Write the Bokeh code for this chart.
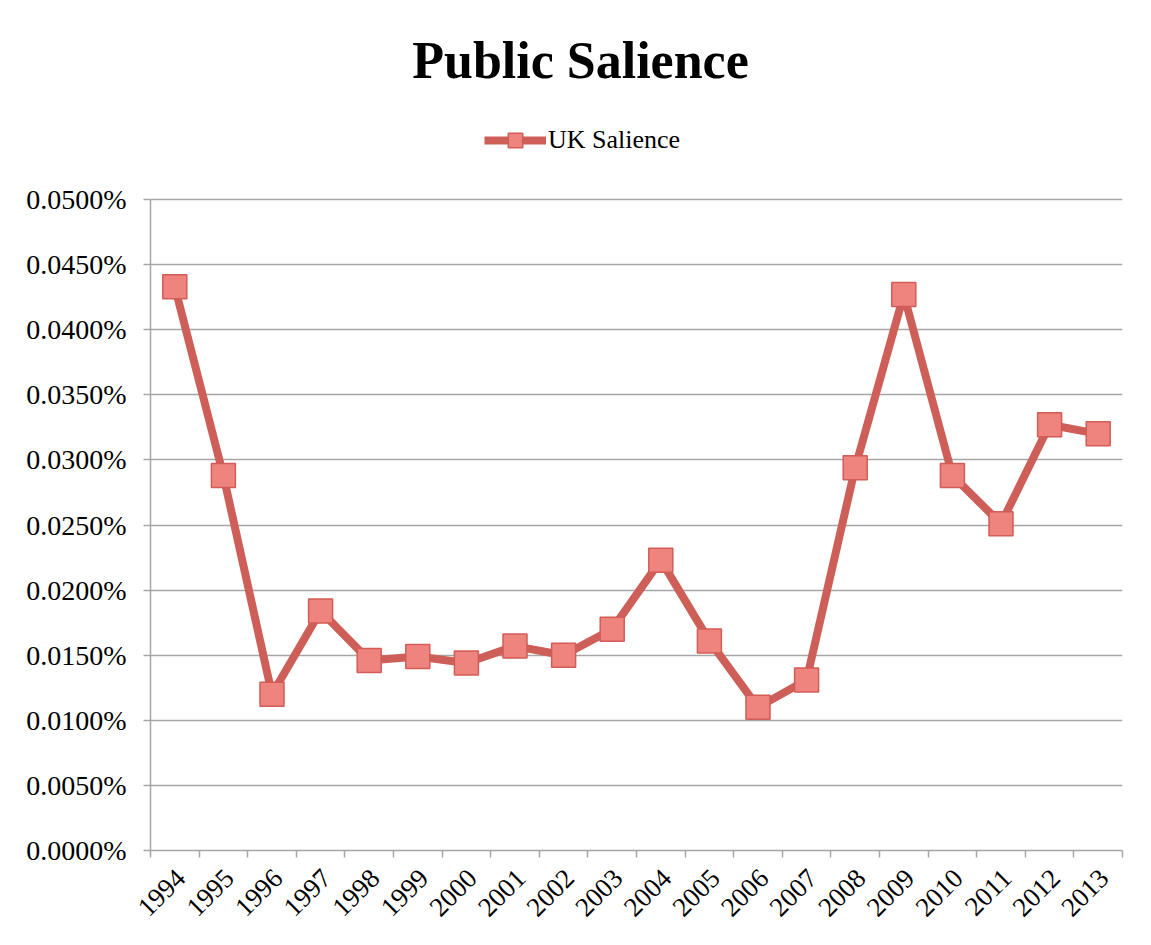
import math
from bokeh.plotting import figure
from bokeh.models import (Range1d, FixedTicker, PrintfTickFormatter, CustomJSTickFormatter,
                          Label, Legend, LegendItem, ColumnDataSource)
from bokeh.embed import file_html
from bokeh.resources import INLINE

years = ["1994", "1995", "1996", "1997", "1998", "1999", "2000", "2001", "2002", "2003",
         "2004", "2005", "2006", "2007", "2008", "2009", "2010", "2011", "2012", "2013"]
uk_salience = [0.0433, 0.0288, 0.0120, 0.0184, 0.0146, 0.0149, 0.0144, 0.0157, 0.0150, 0.0170,
               0.0223, 0.0161, 0.0110, 0.0131, 0.0294, 0.0427, 0.0288, 0.0251, 0.0327, 0.0320]
y_ticks = [0.0, 0.005, 0.010, 0.015, 0.020, 0.025, 0.030, 0.035, 0.040, 0.045, 0.050]
y_max = 0.05
title_text = "Public Salience"
series_name = "UK Salience"

FONT = "Liberation Serif"
GRID = "#A6A6A6"
LINE = "#CD5F58"

# layout (pixels)
W, H = 1135, 929
FRAME_LEFT, FRAME_RIGHT, FRAME_BOTTOM = 150, 1122, 850
PLOT_TOP = 199  # pixel row of y_max
y_top = y_max * FRAME_BOTTOM / (FRAME_BOTTOM - PLOT_TOP)  # frame extended up to canvas top

xs = [i + 0.5 for i in range(len(years))]
label_pos = [i + 0.62 for i in range(len(years))]
src = ColumnDataSource(dict(x=xs, y=uk_salience))

p = figure(width=W, height=H, output_backend="svg", toolbar_location=None,
           x_range=Range1d(0, len(years)), y_range=Range1d(0, y_top),
           min_border_left=FRAME_LEFT, min_border_right=W - FRAME_RIGHT,
           min_border_top=0, min_border_bottom=H - FRAME_BOTTOM)
p.outline_line_color = None
p.background_fill_color = "white"
p.border_fill_color = "white"

# grid
p.xgrid.grid_line_color = None
p.ygrid.grid_line_color = GRID
p.ygrid.grid_line_width = 1.5

# y axis
p.yaxis.ticker = FixedTicker(ticks=y_ticks)
p.yaxis.bounds = (0, y_max)
p.yaxis.formatter = PrintfTickFormatter(format="%.4f%%")
p.yaxis.axis_line_color = GRID
p.yaxis.axis_line_width = 1.5
p.yaxis.major_tick_line_color = GRID
p.yaxis.major_tick_line_width = 1.5
p.yaxis.major_tick_out = 7
p.yaxis.major_tick_in = 0
p.yaxis.minor_tick_line_color = None
p.yaxis.major_label_text_font = FONT
p.yaxis.major_label_text_font_size = "28px"
p.yaxis.major_label_text_color = "black"
p.yaxis.major_label_standoff = 17

# x axis
p.xaxis.ticker = FixedTicker(ticks=label_pos, minor_ticks=list(range(len(years) + 1)))
p.xaxis.formatter = CustomJSTickFormatter(args=dict(labels=years),
                                          code="return labels[Math.floor(tick)];")
p.xaxis.axis_line_color = GRID
p.xaxis.axis_line_width = 1.5
p.xaxis.major_tick_line_color = None
p.xaxis.major_tick_out = 0
p.xaxis.major_tick_in = 0
p.xaxis.minor_tick_line_color = GRID
p.xaxis.minor_tick_line_width = 1.5
p.xaxis.minor_tick_out = 7
p.xaxis.minor_tick_in = 0
p.xaxis.major_label_orientation = math.pi / 4
p.xaxis.major_label_text_font = FONT
p.xaxis.major_label_text_font_size = "27px"
p.xaxis.major_label_text_color = "black"
p.xaxis.major_label_standoff = 16

ln = p.line("x", "y", source=src, line_color=LINE, line_width=8, line_join="round")
sc = p.scatter("x", "y", source=src, marker="square", size=24,
               fill_color="#EF837E", line_color="#D25C56", line_width=1.5)

legend = Legend(items=[LegendItem(label=series_name, renderers=[ln, sc])],
                location=(334, 692), orientation="horizontal",
                glyph_width=62, glyph_height=36, label_standoff=2,
                padding=0, margin=0, spacing=0,
                label_text_font=FONT, label_text_font_size="26px",
                label_text_color="black",
                border_line_color=None, background_fill_alpha=0)
p.add_layout(legend, "center")

title = Label(x=430, y=790, x_units="screen", y_units="screen", text=title_text,
              text_align="center", text_baseline="alphabetic",
              text_font=FONT, text_font_size="52px", text_font_style="bold",
              text_color="black")
p.add_layout(title)

open("out.html", "w").write(file_html(p, INLINE))
